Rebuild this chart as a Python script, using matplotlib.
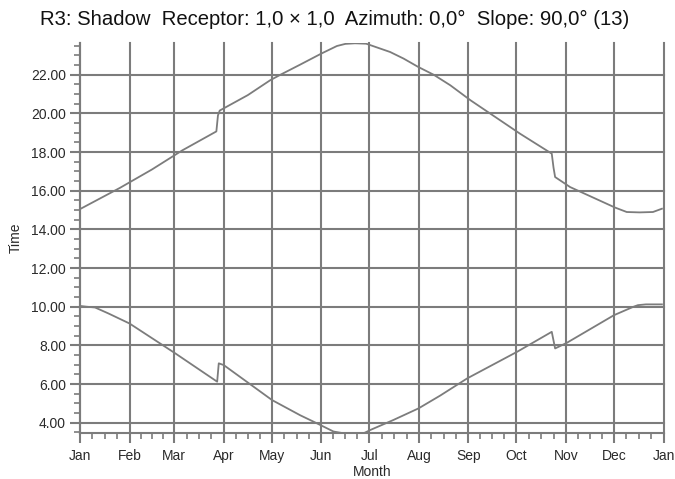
import matplotlib
matplotlib.use("Agg")
import matplotlib.pyplot as plt
from matplotlib.ticker import FixedLocator, NullFormatter

plt.rcParams['font.family'] = ['Liberation Sans', 'DejaVu Sans']

# ---- data ----
month_starts = [0, 31, 59, 90, 120, 151, 181, 212, 243, 273, 304, 334, 365]
month_labels = ['Jan', 'Feb', 'Mar', 'Apr', 'May', 'Jun', 'Jul',
                'Aug', 'Sep', 'Oct', 'Nov', 'Dec', 'Jan']
hour_ticks = [4, 6, 8, 10, 12, 14, 16, 18, 20, 22]
hour_labels = ['4.00', '6.00', '8.00', '10.00', '12.00', '14.00',
               '16.00', '18.00', '20.00', '22.00']

# upper curve (day of year, hour)
upper_days = [0, 25, 45, 64, 85.3, 86.3, 87.4, 105, 119, 125.3, 137.8, 151,
              160.7, 166, 172, 179, 194, 202.4, 211.5, 221.3, 231.6, 244.3,
              275.3, 295.1, 296.2, 297.2, 306.6, 334.7, 342, 350, 358.4, 364]
upper_hours = [15.05, 16.15, 17.1, 18.09, 19.07, 19.9, 20.15, 20.95, 21.72, 22.0, 22.53, 23.1,
               23.49, 23.6, 23.63, 23.61, 23.18, 22.84, 22.41, 22.0, 21.46, 20.68,
               18.95, 17.92, 17.2, 16.71, 16.19, 15.13, 14.9, 14.88, 14.9, 15.07]

# lower curve (day of year, hour)
lower_days = [0, 4, 9.4, 17.8, 31, 59.7, 85.8, 86.8, 89.9, 120.1, 137.8, 146.1,
              158.6, 164.9, 177.4, 181.6, 196.1, 211.8, 225.3, 242.2, 273.5,
              295.1, 297.2, 304.5, 334, 346, 349, 354, 364]
lower_hours = [10.04, 10.0, 9.96, 9.65, 9.13, 7.58, 6.12, 7.07, 6.98, 5.17, 4.38, 4.05,
               3.54, 3.45, 3.45, 3.62, 4.14, 4.74, 5.4, 6.29, 7.67,
               8.70, 7.84, 8.13, 9.56, 9.99, 10.08, 10.12, 10.12]

title = 'R3: Shadow  Receptor: 1,0 \u00d7 1,0  Azimuth: 0,0\u00b0  Slope: 90,0\u00b0 (13)'

# ---- figure ----
gray = '#7c7c7c'
txt = '#2a2a2a'
fig = plt.figure(figsize=(6.75, 4.79), dpi=100)
ax = fig.add_axes([80 / 675, 1 - 432.7 / 479, 583.5 / 675, 389.4 / 479])

ax.plot(upper_days, upper_hours, color=gray, lw=1.3, zorder=3)
ax.plot(lower_days, lower_hours, color=gray, lw=1.3, zorder=3)

ax.set_xlim(0, 365)
ax.set_ylim(3.48, 23.63)

ax.xaxis.set_major_locator(FixedLocator(month_starts))
ax.set_xticklabels(month_labels)
minor_x = []
for a, b in zip(month_starts[:-1], month_starts[1:]):
    for k in (1, 2, 3):
        minor_x.append(a + (b - a) * k / 4)
ax.xaxis.set_minor_locator(FixedLocator(minor_x))
ax.xaxis.set_minor_formatter(NullFormatter())

ax.yaxis.set_major_locator(FixedLocator(hour_ticks))
ax.set_yticklabels(hour_labels)
minor_y = [v / 2 for v in range(7, 48) if v % 4 != 0]
ax.yaxis.set_minor_locator(FixedLocator(minor_y))
ax.yaxis.set_minor_formatter(NullFormatter())

ax.grid(which='major', color=gray, lw=1.5, zorder=1)
for gl in ax.get_xgridlines() + ax.get_ygridlines():
    gl.set_clip_on(False)

for s in ('top', 'right'):
    ax.spines[s].set_visible(False)
for s in ('left', 'bottom'):
    ax.spines[s].set_color(gray)
    ax.spines[s].set_linewidth(1.5)

ax.tick_params(which='major', length=7, width=1.5, color=gray, direction='out',
               labelsize=10, labelcolor=txt)
ax.tick_params(axis='x', which='major', pad=5)
ax.tick_params(axis='y', which='major', pad=3)
ax.tick_params(which='minor', length=4, width=1.2, color=gray, direction='out')

ax.set_xlabel('Month', fontsize=10, color=txt, labelpad=1)
ax.set_ylabel('Time', fontsize=10, color=txt, labelpad=6)

fig.text(335 / 675, 1 - 19 / 479, title, ha='center', va='center', fontsize=14.6, color='#111111')

fig.savefig('out.png', dpi=100, facecolor='white')
